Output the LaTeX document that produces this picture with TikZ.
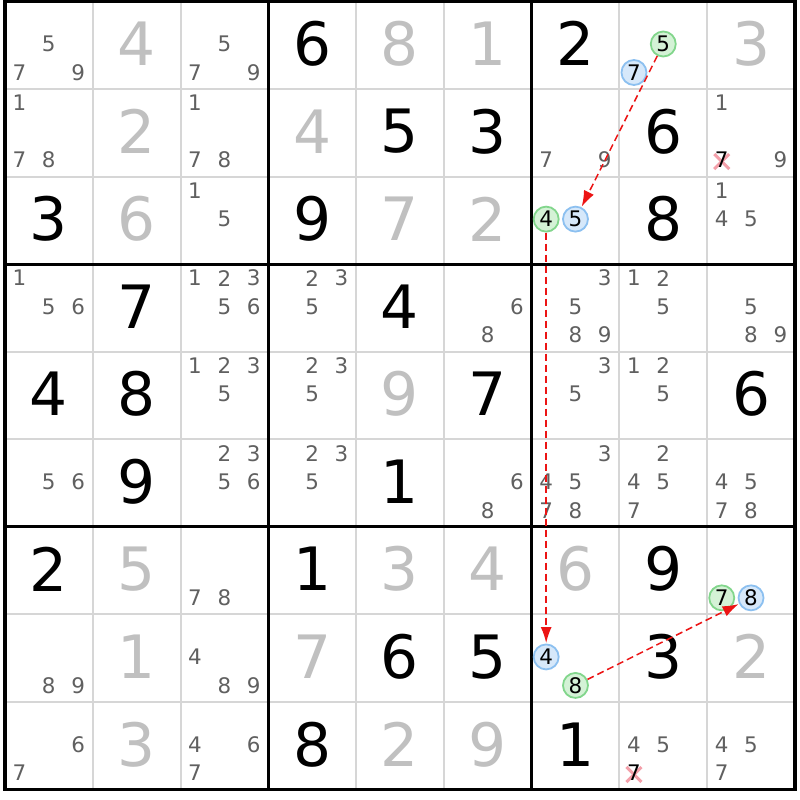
\documentclass[tikz,border=0pt]{standalone}
\usepackage{fontspec}
\setmainfont{DejaVu Sans}
\usetikzlibrary{arrows.meta}
\definecolor{solvedgray}{RGB}{192,192,192}
\definecolor{candgray}{RGB}{96,96,96}
\definecolor{thingrid}{RGB}{214,214,214}
\definecolor{hlgreenfill}{RGB}{212,242,214}
\definecolor{hlgreendraw}{RGB}{130,214,140}
\definecolor{hlbluefill}{RGB}{214,232,250}
\definecolor{hlbluedraw}{RGB}{140,192,240}
\definecolor{crosspink}{RGB}{244,160,170}
\definecolor{linkred}{RGB}{236,20,20}
\tikzset{
  bigB/.style={inner sep=0pt, font=\fontsize{60}{60}\selectfont, text=black},
  bigG/.style={inner sep=0pt, font=\fontsize{60}{60}\selectfont, text=solvedgray},
  cand/.style={inner sep=0pt, font=\fontsize{21.5}{21.5}\selectfont, text=candgray},
  candX/.style={inner sep=0pt, font=\fontsize{21.5}{21.5}\selectfont, text=black},
  hlgreen/.style={circle, inner sep=0pt, minimum size=25bp, line width=1.8bp, draw=hlgreendraw, fill=hlgreenfill, font=\fontsize{21.5}{21.5}\selectfont, text=black},
  hlblue/.style={circle, inner sep=0pt, minimum size=25bp, line width=1.8bp, draw=hlbluedraw, fill=hlbluefill, font=\fontsize{21.5}{21.5}\selectfont, text=black},
  crossline/.style={draw=crosspink, line width=3bp},
  thinline/.style={draw=thingrid, line width=2bp},
  thickline/.style={draw=black, line width=2.8bp},
  linkarrow/.style={draw=linkred, line width=1.5bp, dash pattern=on 7bp off 4bp, -{Latex[length=16bp,width=11bp]}, shorten >=0.5bp},
}
\begin{document}
\begin{tikzpicture}[x=1bp, y=-1bp]
\useasboundingbox (0,0) rectangle (800,800);
\fill[white] (0,0) rectangle (800,800);
% thin grid
\foreach \i in {1,2,4,5,7,8} {
  \draw[thinline] ({5+\i*87.78},1.5) -- ({5+\i*87.78},789.5);
  \draw[thinline] (5,{1.5+\i*87.56}) -- (795,{1.5+\i*87.56});
}
% thick grid
\foreach \i in {3,6} {
  \draw[thickline] ({5+\i*87.78},1.5) -- ({5+\i*87.78},789.5);
  \draw[thickline] (5,{1.5+\i*87.56}) -- (795,{1.5+\i*87.56});
}
\draw[draw=black, line width=3.4bp] (5,1.5) rectangle (795,789.5);
% given / solved digits
\foreach \r/\c/\d in {1/4/6,1/7/2,2/5/5,2/6/3,2/8/6,3/1/3,3/4/9,3/8/8,4/2/7,4/5/4,5/1/4,5/2/8,5/6/7,5/9/6,6/2/9,6/5/1,7/1/2,7/4/1,7/8/9,8/5/6,8/6/5,8/8/3,9/4/8,9/7/1}
  \node[bigB] (v\r\c) at ({5+(\c-0.5)*87.78},{1.5+(\r-0.5)*87.56-1.5}) {\d};
\foreach \r/\c/\d in {1/2/4,1/5/8,1/6/1,1/9/3,2/2/2,2/4/4,3/2/6,3/5/7,3/6/2,5/5/9,7/2/5,7/5/3,7/6/4,7/7/6,8/2/1,8/4/7,8/9/2,9/2/3,9/5/2,9/6/9}
  \node[bigG] (v\r\c) at ({5+(\c-0.5)*87.78},{1.5+(\r-0.5)*87.56-1.5}) {\d};
% candidates
\foreach \r/\c/\d in {1/1/5,1/1/7,1/1/9,1/3/5,1/3/7,1/3/9,
  2/1/1,2/1/7,2/1/8,2/3/1,2/3/7,2/3/8,2/7/7,2/7/9,2/9/1,2/9/9,
  3/3/1,3/3/5,3/9/1,3/9/4,3/9/5,
  4/1/1,4/1/5,4/1/6,4/3/1,4/3/2,4/3/3,4/3/5,4/3/6,4/4/2,4/4/3,4/4/5,4/6/6,4/6/8,4/7/3,4/7/5,4/7/8,4/7/9,4/8/1,4/8/2,4/8/5,4/9/5,4/9/8,4/9/9,
  5/3/1,5/3/2,5/3/3,5/3/5,5/4/2,5/4/3,5/4/5,5/7/3,5/7/5,5/8/1,5/8/2,5/8/5,
  6/1/5,6/1/6,6/3/2,6/3/3,6/3/5,6/3/6,6/4/2,6/4/3,6/4/5,6/6/6,6/6/8,6/7/3,6/7/4,6/7/5,6/7/7,6/7/8,6/8/2,6/8/4,6/8/5,6/8/7,6/9/4,6/9/5,6/9/7,6/9/8,
  7/3/7,7/3/8,
  8/1/8,8/1/9,8/3/4,8/3/8,8/3/9,
  9/1/6,9/1/7,9/3/4,9/3/6,9/3/7,9/8/4,9/8/5,9/9/4,9/9/5,9/9/7}
  \node[cand] (k\r\c\d) at ({5+(\c-1)*87.78+14.5+mod(\d-1,3)*29.3},{1.5+(\r-1)*87.56+14+floor((\d-1)/3)*28.5}) {\d};
% eliminated candidates
\foreach \r/\c/\d in {2/9/7,9/8/7} {
  \coordinate (x\r\c\d) at ({5+(\c-1)*87.78+14.5+mod(\d-1,3)*29.3},{1.5+(\r-1)*87.56+14+floor((\d-1)/3)*28.5+1.5});
  \draw[crossline] ([shift={(-7.5,-7.5)}]x\r\c\d) -- ([shift={(7.5,7.5)}]x\r\c\d);
  \draw[crossline] ([shift={(-7.5,7.5)}]x\r\c\d) -- ([shift={(7.5,-7.5)}]x\r\c\d);
  \node[candX] (k\r\c\d) at ({5+(\c-1)*87.78+14.5+mod(\d-1,3)*29.3},{1.5+(\r-1)*87.56+14+floor((\d-1)/3)*28.5}) {\d};
}
% highlighted candidates
\foreach \r/\c/\d in {1/8/5,3/7/4,7/9/7,8/7/8}
  \node[hlgreen] (k\r\c\d) at ({5+(\c-1)*87.78+14.5+mod(\d-1,3)*29.3},{1.5+(\r-1)*87.56+14+floor((\d-1)/3)*28.5}) {\d};
\foreach \r/\c/\d in {1/8/7,3/7/5,7/9/8,8/7/4}
  \node[hlblue] (k\r\c\d) at ({5+(\c-1)*87.78+14.5+mod(\d-1,3)*29.3},{1.5+(\r-1)*87.56+14+floor((\d-1)/3)*28.5}) {\d};
% links
\draw[linkarrow] (k185) -- (k375);
\draw[linkarrow] (k374) -- (k874);
\draw[linkarrow] (k878) -- (k798);
\end{tikzpicture}
\end{document}
